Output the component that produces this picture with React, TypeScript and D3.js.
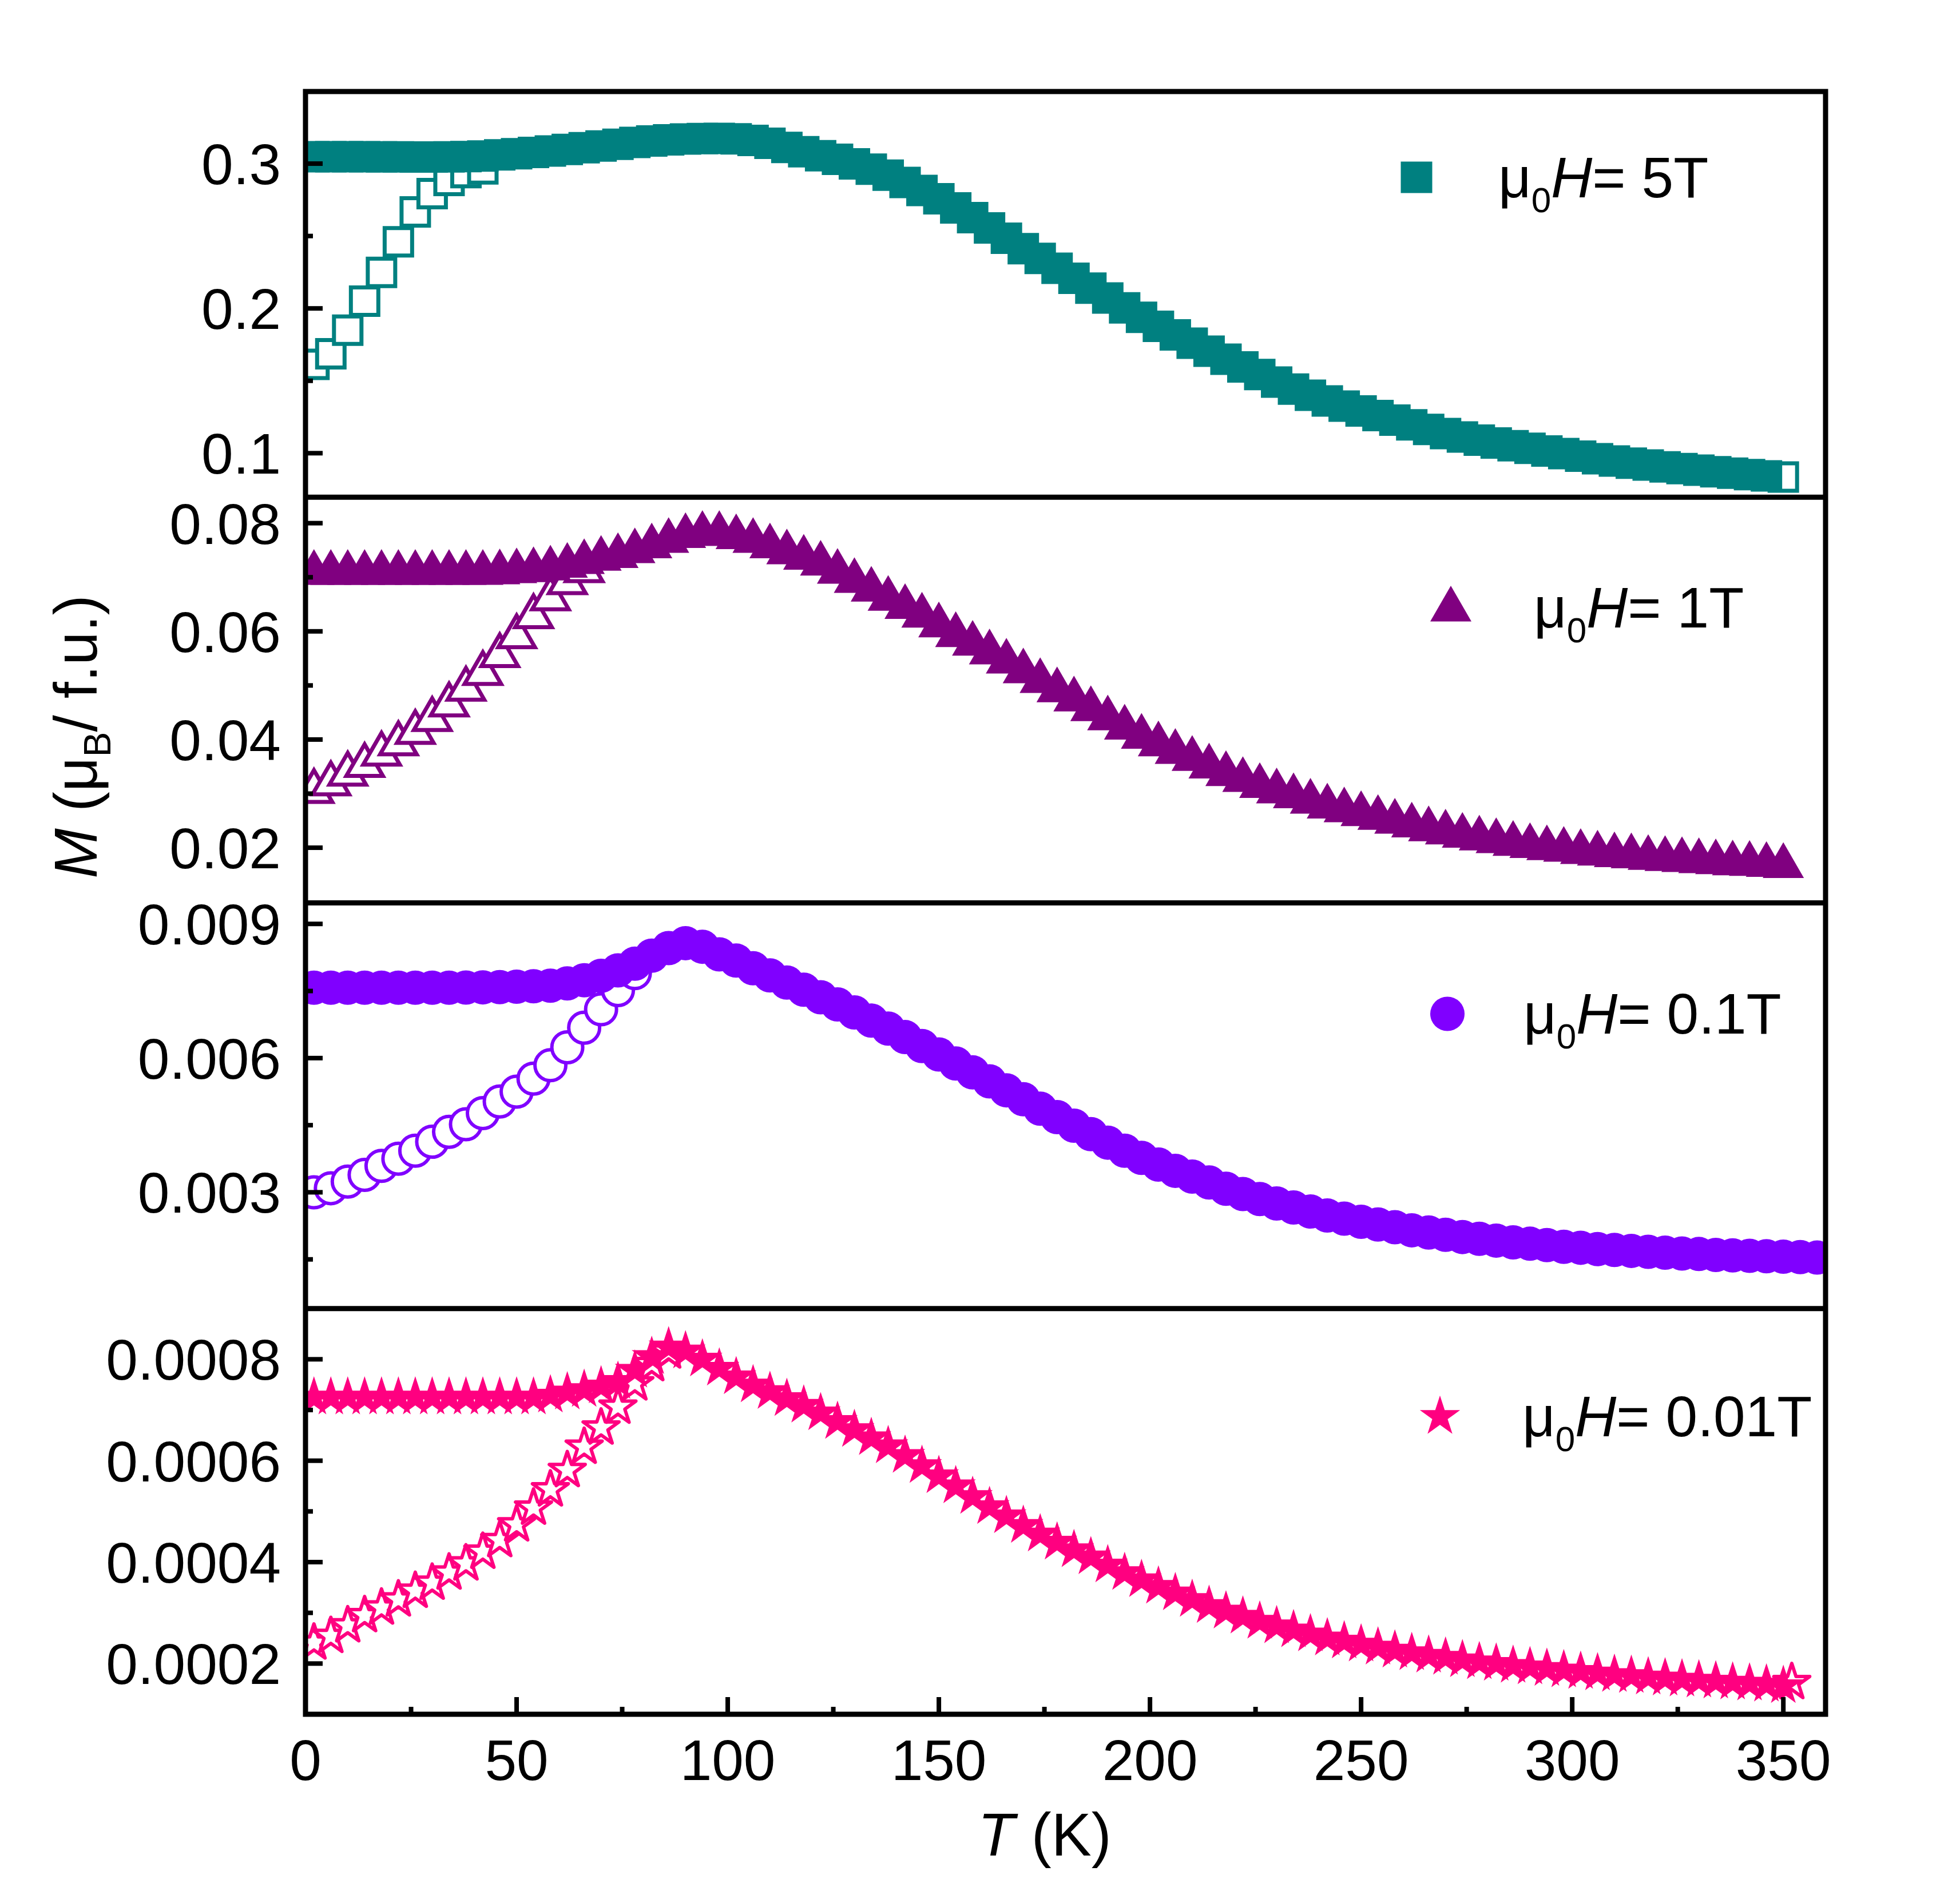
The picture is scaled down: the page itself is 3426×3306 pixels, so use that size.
import { FC } from 'react';
import * as d3 from 'd3';

// temperature grid of the sweeps (K), 4 K steps
const temps = [
  2, 6, 10, 14, 18, 22, 26, 30, 34, 38, 42, 46, 50, 54, 58, 62, 66, 70, 74, 78,
  82, 86, 90, 94, 98, 102, 106, 110, 114, 118, 122, 126, 130, 134, 138, 142, 146, 150, 154, 158,
  162, 166, 170, 174, 178, 182, 186, 190, 194, 198, 202, 206, 210, 214, 218, 222, 226, 230, 234, 238,
  242, 246, 250, 254, 258, 262, 266, 270, 274, 278, 282, 286, 290, 294, 298, 302, 306, 310, 314, 318,
  322, 326, 330, 334, 338, 342, 346, 350, 354, 358,
];

// field-cooled curves (filled symbols), index-aligned with temps
const fc5T = [
  0.3048, 0.3048, 0.3048, 0.3048, 0.3047, 0.3047, 0.3046, 0.3046, 0.3047, 0.3049,
  0.3053, 0.306, 0.3068, 0.3077, 0.3087, 0.3098, 0.311, 0.3122, 0.3134, 0.3146,
  0.3156, 0.3164, 0.317, 0.3173, 0.3174, 0.3171, 0.316, 0.314, 0.3112, 0.3082,
  0.3055, 0.303, 0.2998, 0.2962, 0.292, 0.287, 0.2815, 0.2757, 0.2694, 0.2627,
  0.2556, 0.2485, 0.2413, 0.2345, 0.2277, 0.2208, 0.214, 0.2072, 0.2004, 0.1938,
  0.1876, 0.1817, 0.176, 0.1704, 0.1649, 0.1596, 0.1543, 0.1491, 0.1443, 0.14,
  0.1361, 0.1325, 0.1292, 0.126, 0.1228, 0.1196, 0.1164, 0.1136, 0.1112, 0.109,
  0.107, 0.1052, 0.1034, 0.1015, 0.0997, 0.0979, 0.0962, 0.0946, 0.0931, 0.0918,
  0.0905, 0.0894, 0.0883, 0.0872, 0.0862, 0.0852, 0.0843,
];
const fc1T = [
  0.0719, 0.0719, 0.0719, 0.0719, 0.0719, 0.0719, 0.0719, 0.0719, 0.0719, 0.0719,
  0.0719, 0.072, 0.0722, 0.0724, 0.0727, 0.0732, 0.0739, 0.0745, 0.075, 0.0759,
  0.0768, 0.0778, 0.0787, 0.0791, 0.0791, 0.0785, 0.0778, 0.0768, 0.0757, 0.0747,
  0.0736, 0.0721, 0.0704, 0.0688, 0.0671, 0.0656, 0.064, 0.0622, 0.0604, 0.0588,
  0.0572, 0.0555, 0.0537, 0.0519, 0.0502, 0.0485, 0.0467, 0.045, 0.0433, 0.0416,
  0.0402, 0.0388, 0.0375, 0.0361, 0.0347, 0.0336, 0.0325, 0.0315, 0.0306, 0.0296,
  0.0287, 0.028, 0.0273, 0.0266, 0.0259, 0.0252, 0.0245, 0.0239, 0.0233, 0.0228,
  0.0223, 0.0218, 0.0214, 0.021, 0.0207, 0.0203, 0.02, 0.0197, 0.0195, 0.0192,
  0.019, 0.0188, 0.0186, 0.0184, 0.0182, 0.0181, 0.0179, 0.0177,
];
const fc01T = [
  0.007575, 0.007575, 0.007575, 0.007575, 0.007575, 0.007575, 0.007575, 0.007575, 0.007575, 0.007578,
  0.007582, 0.007588, 0.007596, 0.007605, 0.00762, 0.00767, 0.00774, 0.00784, 0.00796, 0.00811,
  0.00829, 0.00846, 0.00857, 0.00849, 0.00832, 0.00818, 0.00801, 0.00785, 0.00769, 0.00753,
  0.00736, 0.0072, 0.00702, 0.00684, 0.00666, 0.00647, 0.00627, 0.00608, 0.00588, 0.00568,
  0.00548, 0.00528, 0.00508, 0.00487, 0.00468, 0.00449, 0.0043, 0.00411, 0.00393, 0.00377,
  0.00362, 0.00348, 0.00335, 0.00322, 0.00308, 0.00296, 0.00285, 0.00275, 0.00266, 0.00257,
  0.00248, 0.00241, 0.00234, 0.00228, 0.00222, 0.00215, 0.0021, 0.00205, 0.002, 0.00196,
  0.00192, 0.00188, 0.00185, 0.00182, 0.00178, 0.00176, 0.00173, 0.00171, 0.00169, 0.00167,
  0.00165, 0.00163, 0.00162, 0.0016, 0.00159, 0.00158, 0.00157, 0.00156, 0.00155, 0.00154,
];
const fc001T = [
  0.000725, 0.000725, 0.000725, 0.000725, 0.000725, 0.000725, 0.000725, 0.000725, 0.000725, 0.000725,
  0.000725, 0.000725, 0.000725, 0.000725, 0.000729, 0.000735, 0.00074, 0.000747, 0.000756, 0.000778,
  0.000805, 0.000824, 0.000816, 0.0008, 0.000782, 0.000765, 0.000749, 0.000736, 0.000722, 0.000709,
  0.000694, 0.000677, 0.000661, 0.000645, 0.000629, 0.00061, 0.00059, 0.00057, 0.00055, 0.000529,
  0.000509, 0.000491, 0.000472, 0.000455, 0.000439, 0.000424, 0.00041, 0.000394, 0.000379, 0.000365,
  0.000352, 0.000339, 0.000326, 0.000314, 0.000303, 0.000293, 0.000283, 0.000274, 0.000266, 0.000258,
  0.00025, 0.000244, 0.000238, 0.000232, 0.000226, 0.000221, 0.000216, 0.000212, 0.000207, 0.000203,
  0.0002, 0.000196, 0.000193, 0.00019, 0.000187, 0.000184, 0.000181, 0.000178, 0.000176, 0.000173,
  0.000171, 0.000169, 0.000167, 0.000165, 0.000163, 0.000161, 0.000159, 0.000156,
];

// zero-field-cooled curves (open symbols): only the low-T branch that separates
// from FC is listed (the rest lies under the filled symbols), plus the last point
const zfc5T = [0.1614, 0.1687, 0.185, 0.205, 0.2249, 0.246, 0.2666, 0.2793, 0.2884, 0.2938, 0.2964];
const zfc1T = [
  0.0314, 0.0328, 0.0346, 0.0362, 0.0383, 0.0402, 0.0423, 0.0447, 0.0474,
  0.0503, 0.0532, 0.0565, 0.06, 0.0637, 0.067, 0.07, 0.0722,
];
const zfc01T = [
  0.003, 0.00309, 0.00324, 0.00339, 0.00359, 0.00375, 0.00393, 0.00413, 0.00435, 0.00452,
  0.00477, 0.00503, 0.00525, 0.00554, 0.00584, 0.00624, 0.00668, 0.00709, 0.00752, 0.0079,
];
const zfc001T = [
  0.000241, 0.000254, 0.000275, 0.000295, 0.00031, 0.000326, 0.000343, 0.000359, 0.000379, 0.000397,
  0.00042, 0.000443, 0.000474, 0.000507, 0.000543, 0.000581, 0.000627, 0.000665, 0.000706, 0.000752,
  0.00079, 0.000815,
];
const zfc5TEnd: [number, number][] = [[350, 0.0835]];
const zfc001TEnd: [number, number][] = [[352, 0.000163]];

const fieldLabels = ['5T', '1T', '0.1T', '0.01T'];
const colors = ['#008080', '#800080', '#8000ff', '#ff0080'];

const xDomain = [0, 360];
const xMajor = [0, 50, 100, 150, 200, 250, 300, 350];
const xMinor = [25, 75, 125, 175, 225, 275, 325];

const yDomains = [
  [0.0696, 0.3498],
  [0.0098, 0.0848],
  [0.0004, 0.00947],
  [0.0001, 0.0009],
];
const yMajor = [
  [0.1, 0.2, 0.3],
  [0.02, 0.04, 0.06, 0.08],
  [0.003, 0.006, 0.009],
  [0.0002, 0.0004, 0.0006, 0.0008],
];
const yMinor = [
  [0.15, 0.25],
  [0.03, 0.05, 0.07],
  [0.0015, 0.0045, 0.0075],
  [0.0003, 0.0005, 0.0007],
];
const yFormats = ['.1f', '.2f', '.3f', '.4f'];

// layout
const W = 3426;
const H = 3306;
const left = 534;
const right = 3191;
const top = 160;
const bottom = 2997;
const ph = (bottom - top) / 4;
const FONT = "'Liberation Sans', Arial, Helvetica, sans-serif";

// triangle centred on its bounding box, size = side^2
const triangleBox: d3.SymbolType = {
  draw(ctx, size) {
    const s = Math.sqrt(size);
    const h = (s * Math.sqrt(3)) / 2;
    ctx.moveTo(0, -h / 2);
    ctx.lineTo(s / 2, h / 2);
    ctx.lineTo(-s / 2, h / 2);
    ctx.closePath();
  },
};

const markers = [
  { type: d3.symbolSquare, filled: 55 * 55, open: 48 * 48, sw: 7 },
  { type: triangleBox, filled: 72 * 72, open: 64 * 64, sw: 7 },
  { type: d3.symbolCircle, filled: Math.PI * 30 * 30, open: Math.PI * 27 * 27, sw: 6 },
  { type: d3.symbolStar, filled: (37 * 37) / 0.8908130915292852, open: (33 * 33) / 0.8908130915292852, sw: 6 },
];

const legendPos = [
  { sx: 2476, sy: 150, tx: 2619, ty: 185 },
  { sx: 2536, sy: 186, tx: 2681, ty: 228 },
  { sx: 2530, sy: 194, tx: 2663, ty: 228 },
  { sx: 2517, sy: 189, tx: 2661, ty: 223 },
];

const fcSeries = [fc5T, fc1T, fc01T, fc001T];
const zfcSeries = [zfc5T, zfc1T, zfc01T, zfc001T];
const zfcEnds: [number, number][][] = [zfc5TEnd, [], [], zfc001TEnd];

const App: FC = () => {
  const x = d3.scaleLinear().domain(xDomain).range([left, right]);

  const panels = fcSeries.map((fc, i) => {
    const y0 = top + i * ph;
    const y = d3.scaleLinear().domain(yDomains[i]).range([y0 + ph, y0]);
    const fcPts = fc.map((m, k) => [temps[k], m] as [number, number]);
    const zfcPts = zfcSeries[i].map((m, k) => [temps[k], m] as [number, number]).concat(zfcEnds[i]);
    return { i, y0, y, fcPts, zfcPts };
  });

  return (
    <svg
      width={W}
      height={H}
      viewBox={`0 0 ${W} ${H}`}
      style={{ position: 'absolute', left: 0, top: 0, background: '#fff' }}
      fontFamily={FONT}
    >
      <defs>
        {panels.map((p) => (
          <clipPath id={`clip${p.i}`} key={p.i}>
            <rect x={left} y={p.y0} width={right - left} height={ph} />
          </clipPath>
        ))}
      </defs>

      {panels.map((p) => {
        const mk = markers[p.i];
        const col = colors[p.i];
        const openPath = d3.symbol(mk.type, mk.open)() as string;
        const fillPath = d3.symbol(mk.type, mk.filled)() as string;
        const fmt = d3.format(yFormats[p.i]);
        const lg = legendPos[p.i];
        return (
          <g key={p.i}>
            <g clipPath={`url(#clip${p.i})`}>
              {p.zfcPts.map(([t, m], k) => (
                <path
                  key={`z${k}`}
                  d={openPath}
                  transform={`translate(${x(t)},${p.y(m)})`}
                  fill="#fff"
                  stroke={col}
                  strokeWidth={mk.sw}
                  strokeLinejoin={p.i === 3 ? 'round' : 'miter'}
                />
              ))}
              {p.fcPts.map(([t, m], k) => (
                <path key={`f${k}`} d={fillPath} transform={`translate(${x(t)},${p.y(m)})`} fill={col} />
              ))}
            </g>

            {/* y ticks (inward) */}
            {yMajor[p.i].map((v) => (
              <g key={`M${v}`}>
                <line x1={left} x2={left + 30} y1={p.y(v)} y2={p.y(v)} stroke="#000" strokeWidth={8} />
                <text x={491} y={p.y(v) + 36} fontSize={100} textAnchor="end" fill="#000">
                  {fmt(v)}
                </text>
              </g>
            ))}
            {yMinor[p.i].map((v) => (
              <line key={`m${v}`} x1={left} x2={left + 13} y1={p.y(v)} y2={p.y(v)} stroke="#000" strokeWidth={8} />
            ))}

            {/* legend */}
            <path d={fillPath} transform={`translate(${lg.sx},${p.y0 + lg.sy})`} fill={col} />
            <text x={lg.tx} y={p.y0 + lg.ty} fontSize={100} fill="#000">
              <tspan>μ</tspan>
              <tspan fontSize={62} dy={26}>
                0
              </tspan>
              <tspan fontStyle="italic" dy={-26}>
                H
              </tspan>
              <tspan>{`= ${fieldLabels[p.i]}`}</tspan>
            </text>
          </g>
        );
      })}

      {/* x ticks on the bottom axis */}
      {xMajor.map((t) => (
        <g key={`xM${t}`}>
          <line x1={x(t)} x2={x(t)} y1={bottom} y2={bottom - 30} stroke="#000" strokeWidth={8} />
          <text x={x(t)} y={3112} fontSize={100} textAnchor="middle" fill="#000">
            {t}
          </text>
        </g>
      ))}
      {xMinor.map((t) => (
        <line key={`xm${t}`} x1={x(t)} x2={x(t)} y1={bottom} y2={bottom - 13} stroke="#000" strokeWidth={8} />
      ))}

      {/* frame and panel separators */}
      <rect x={left} y={top} width={right - left} height={bottom - top} fill="none" stroke="#000" strokeWidth={9} />
      {[1, 2, 3].map((k) => (
        <line key={k} x1={left} x2={right} y1={top + k * ph} y2={top + k * ph} stroke="#000" strokeWidth={9} />
      ))}

      {/* axis titles */}
      <text x={1826} y={3244} fontSize={105} textAnchor="middle" fill="#000">
        <tspan fontStyle="italic">T</tspan>
        <tspan> (K)</tspan>
      </text>
      <text transform="translate(169,1288) rotate(-90)" fontSize={105} textAnchor="middle" fill="#000">
        <tspan fontStyle="italic">M</tspan>
        <tspan> (μ</tspan>
        <tspan fontSize={66} dy={24}>
          B
        </tspan>
        <tspan dy={-24}>/ f.u.)</tspan>
      </text>
    </svg>
  );
};

export default App;
